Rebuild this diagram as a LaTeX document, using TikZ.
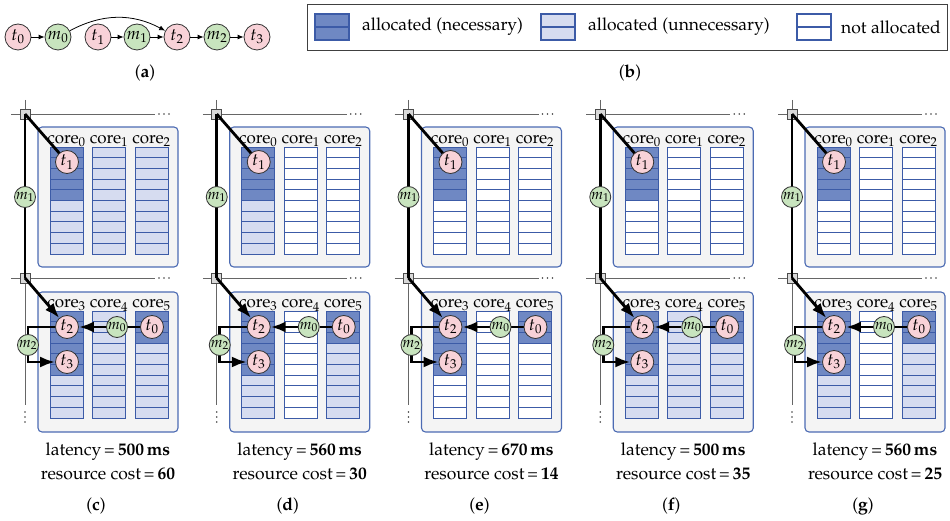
\documentclass[tikz,border=0pt]{standalone}
\usepackage[T1]{fontenc}
\usepackage{mathpazo}
\usetikzlibrary{arrows.meta}

\definecolor{taskpink}{HTML}{F8D2D8}
\definecolor{msggreen}{HTML}{C8E4BE}
\definecolor{slotdark}{HTML}{6F88C3}
\definecolor{slotlight}{HTML}{D6DCF0}
\definecolor{slotline}{HTML}{3C5BA7}
\definecolor{boxfill}{HTML}{F4F4F4}
\definecolor{boxline}{HTML}{4C6BB3}

\pgfdeclarelayer{back}
\pgfdeclarelayer{wires}
\pgfsetlayers{back,wires,main}

\tikzset{
  txt/.style={font=\fontsize{17.5}{20}\selectfont},
  task/.style={circle, draw=black!80, fill=taskpink, minimum size=23pt,
    inner sep=0pt, line width=0.8pt, font=\fontsize{17}{20}\selectfont},
  msg/.style={circle, draw=black!80, fill=msggreen, minimum size=21pt,
    inner sep=0pt, line width=0.8pt, font=\fontsize{15}{17}\selectfont},
  gtask/.style={task, minimum size=26pt},
  gmsg/.style={msg, minimum size=26pt, font=\fontsize{17}{20}\selectfont},
  flow/.style={draw=black, line width=0.8pt, -{Latex[length=6pt,width=5pt]}},
  slotD/.style={fill=slotdark, draw=slotline, line width=0.9pt},
  slotL/.style={fill=slotlight, draw=slotline, line width=0.9pt},
  slotW/.style={fill=white, draw=slotline, line width=0.9pt},
  corebox/.style={fill=boxfill, draw=boxline, line width=1.1pt, rounded corners=4pt},
  bus/.style={draw=black!60, line width=0.9pt},
  busdot/.style={fill=black!75, draw=none},
  junction/.style={rectangle, minimum size=10pt, inner sep=0pt,
    fill=black!15, draw=black!70, line width=0.8pt},
  wire/.style={draw=black, line width=2.8pt},
  wirearrow/.style={wire, -{Latex[length=15pt,width=11pt]}},
  corelabel/.style={anchor=base, inner sep=0pt, font=\fontsize{17}{20}\selectfont},
  legendbox/.style={draw=black!75, line width=0.9pt},
  swatchD/.style={fill=slotdark, draw=slotline, line width=1.4pt},
  swatchL/.style={fill=slotlight, draw=slotline, line width=1.4pt},
  swatchW/.style={fill=white, draw=slotline, line width=1.4pt},
}

% one core: ten slots, the first #3 of them necessary, the others in style #4
\newcommand\slotcolumn[4]{%
  \foreach \k in {0,...,9}{%
    \ifnum\k<#3\relax\def\slotsty{slotD}\else\def\slotsty{#4}\fi
    \draw[\slotsty] (#1,{#2+\k*10.7}) rectangle ++(33,10.7);
  }}

% one schedule: #1 name, #2 bus x, #3 rest of core0, #4 core1/core2,
% #5 rest of core3, #6 core4, #7 rest of core5, #8 latency, #9 cost
\newcommand\schedule[9]{%
\begin{scope}[shift={(#2,0)}]
  \begin{pgfonlayer}{back}
    \coordinate (#1-vt) at (0,100);
    \coordinate (#1-vb) at (0,405);
    \coordinate (#1-h1l) at (-14,114);
    \coordinate (#1-h1r) at (130,114);
    \coordinate (#1-h2l) at (-14,278);
    \coordinate (#1-h2r) at (130,278);
    \draw[bus] (#1-vt) -- (#1-vb);
    \draw[bus] (#1-h1l) -- (#1-h1r);
    \draw[bus] (#1-h2l) -- (#1-h2r);
    % continuation dots of the buses
    \foreach \d in {0,1,2}{%
      \fill[busdot] ({134+\d*5},114) circle (0.9pt);
      \fill[busdot] ({134+\d*5},278) circle (0.9pt);
      \fill[busdot] (0,{412+\d*5}) circle (0.9pt);
    }
    \draw[corebox] (13,127) rectangle (153,267);
    \draw[corebox] (13,292) rectangle (153,432);
    \slotcolumn{25}{147}{5}{#3}
    \slotcolumn{67.5}{147}{0}{#4}
    \slotcolumn{110}{147}{0}{#4}
    \slotcolumn{25}{311}{6}{#5}
    \slotcolumn{67.5}{311}{0}{#6}
    \slotcolumn{110}{311}{3}{#7}
    \node[corelabel] (#1-c0) at (41.5,143.5) {core$_0$};
    \node[corelabel] (#1-c1) at (84,143.5) {core$_1$};
    \node[corelabel] (#1-c2) at (126.5,143.5) {core$_2$};
    \node[corelabel] (#1-c3) at (41.5,308) {core$_3$};
    \node[corelabel] (#1-c4) at (84,308) {core$_4$};
    \node[corelabel] (#1-c5) at (126.5,308) {core$_5$};
    \node[junction] (#1-J1) at (0,114) {};
    \node[junction] (#1-J2) at (0,278) {};
  \end{pgfonlayer}
  \node[task] (#1-t1) at (42,162) {$t_1$};
  \node[msg]  (#1-m1) at (0,197) {$m_1$};
  \node[task] (#1-t2) at (42,327) {$t_2$};
  \node[task] (#1-t3) at (42,362) {$t_3$};
  \node[msg]  (#1-m0) at (92,327) {$m_0$};
  \node[task] (#1-t0) at (127,327) {$t_0$};
  \node[msg]  (#1-m2) at (3,345) {$m_2$};
  \begin{pgfonlayer}{wires}
    \draw[wire] (#1-J1.center) -- (#1-t1.center);
    \draw[wire] (#1-J1.center) -- (#1-J2.center);
    \draw[wirearrow] (#1-J2.center) -- (#1-t2);
    \draw[wire] (#1-t0) -- (#1-m0);
    \draw[wirearrow] (#1-m0) -- (#1-t2);
    \draw[wire] (#1-t2.west) -| (#1-m2.center);
    \draw[wirearrow] (#1-m2.center) |- (#1-t3.west);
  \end{pgfonlayer}
  \node[txt, inner sep=0pt] (#1-lat) at (83,452) {latency\,=\,\textbf{#8\,ms}};
  \node[txt, inner sep=0pt] (#1-cost) at (83,474) {resource cost\,=\,\textbf{#9}};
  \node[txt, inner sep=0pt] (#1-cap) at (71,506) {(\textbf{#1})};
\end{scope}}

\begin{document}
\begin{tikzpicture}[x=1pt, y=-1pt]
  \useasboundingbox (0,0) rectangle (950,521);

  % (a) task graph
  \node[gtask] (a-t0) at (18,37) {$t_0$};
  \node[gmsg]  (a-m0) at (58,37) {$m_0$};
  \node[gtask] (a-t1) at (98,37) {$t_1$};
  \node[gmsg]  (a-m1) at (137,37) {$m_1$};
  \node[gtask] (a-t2) at (177,37) {$t_2$};
  \node[gmsg]  (a-m2) at (217,37) {$m_2$};
  \node[gtask] (a-t3) at (257,37) {$t_3$};
  \draw[flow] (a-t0) -- (a-m0);
  \draw[flow] (a-t1) -- (a-m1);
  \draw[flow] (a-m1) -- (a-t2);
  \draw[flow] (a-t2) -- (a-m2);
  \draw[flow] (a-m2) -- (a-t3);
  \draw[flow] (a-m0) to[out=28, in=152] (a-t2);
  \node[txt] (a-cap) at (145,73) {(\textbf{a})};

  % (b) legend
  \draw[legendbox] (307,4) rectangle (947,50);
  \draw[swatchD] (315,14) rectangle (349,27);
  \draw[swatchD] (315,27) rectangle (349,40);
  \node[txt, anchor=west, inner sep=0pt] (b-nec) at (362,27) {allocated (necessary)};
  \draw[swatchL] (541,14) rectangle (575,27);
  \draw[swatchL] (541,27) rectangle (575,40);
  \node[txt, anchor=west, inner sep=0pt] (b-unn) at (588,27) {allocated (unnecessary)};
  \draw[swatchW] (797,14) rectangle (831,27);
  \draw[swatchW] (797,27) rectangle (831,40);
  \node[txt, anchor=west, inner sep=0pt] (b-not) at (841,27) {not allocated};
  \node[txt] (b-cap) at (630,73) {(\textbf{b})};

  % (c)--(g) schedules
  \schedule{c}{25}{slotL}{slotL}{slotL}{slotL}{slotL}{500}{60}
  \schedule{d}{216.75}{slotL}{slotW}{slotL}{slotW}{slotL}{560}{30}
  \schedule{e}{408.5}{slotW}{slotW}{slotW}{slotW}{slotW}{670}{14}
  \schedule{f}{600.25}{slotW}{slotW}{slotL}{slotL}{slotL}{500}{35}
  \schedule{g}{792}{slotW}{slotW}{slotL}{slotW}{slotL}{560}{25}
\end{tikzpicture}
\end{document}
